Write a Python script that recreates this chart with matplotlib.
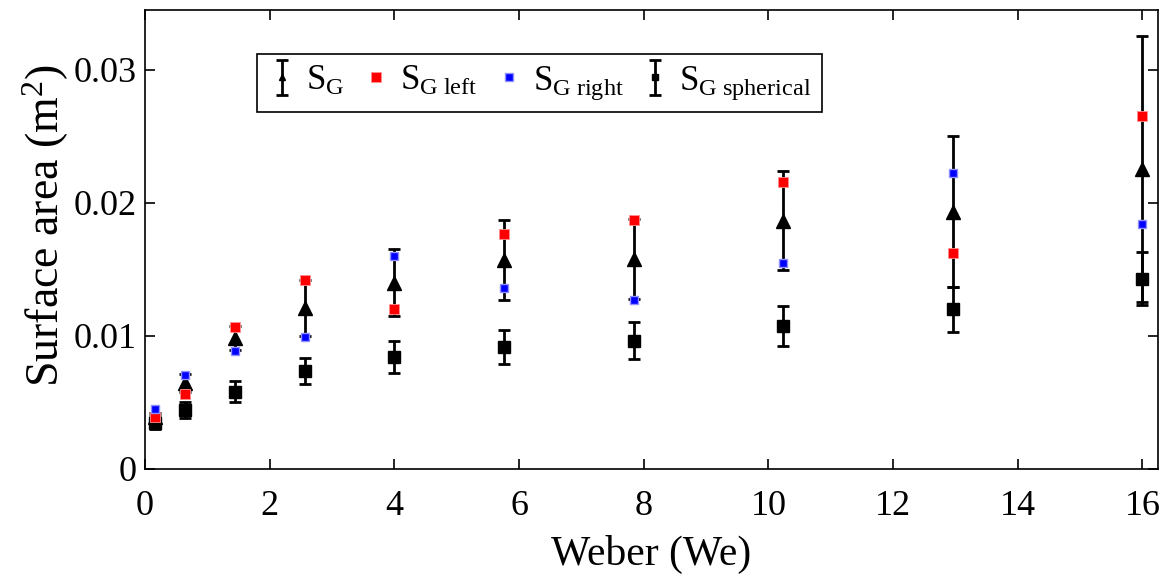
import matplotlib.pyplot as plt
import numpy as np
from matplotlib.lines import Line2D
from matplotlib.legend_handler import HandlerErrorbar

plt.rcParams['font.family'] = ['Liberation Serif', 'DejaVu Serif']
plt.rcParams['mathtext.fontset'] = 'custom'
plt.rcParams['mathtext.rm'] = 'Liberation Serif'
plt.rcParams['mathtext.it'] = 'Liberation Serif:italic'

# Weber numbers
we = [0.16, 0.64, 1.44, 2.56, 4.0, 5.76, 7.84, 10.24, 12.96, 16.0]

# total surface area S_G (mean and error)
sg = [0.0039, 0.00647, 0.00985, 0.0121, 0.0140, 0.01571, 0.01579, 0.01867, 0.01935, 0.02256]
sg_err = [0.0003, 0.0007, 0.0009, 0.0021, 0.0025, 0.0030, 0.0030, 0.0037, 0.0057, 0.0100]

# left / right halves
sg_left = [0.0039, 0.00564, 0.01068, 0.0142, 0.0120, 0.01765, 0.01872, 0.02155, 0.01622, 0.02654]
sg_right = [0.00451, 0.00707, 0.00887, 0.00995, 0.0160, 0.0136, 0.0127, 0.01551, 0.02226, 0.01842]

# spherical approximation
sg_sph = [0.00348, 0.00444, 0.00581, 0.00737, 0.00845, 0.00917, 0.00965, 0.01078, 0.0120, 0.01429]
sg_sph_err = [0.0005, 0.0006, 0.0008, 0.0010, 0.0012, 0.0013, 0.0014, 0.0015, 0.0017, 0.0020]

fig = plt.figure(figsize=(11.65, 5.78), dpi=100)
ax = fig.add_axes([0.1245, 0.1886, 0.8695, 0.7941])

h1 = ax.errorbar(we, sg, yerr=sg_err, fmt='^', color='k', ms=10, elinewidth=2,
                 capsize=4, capthick=2, label=r'S$_{\rm G}$', zorder=3)
h2, = ax.plot(we, sg_left, 's', color='red', ms=6.5, mec='#ff9090', mew=0.6,
              label=r'S$_{\rm G\ left}$', zorder=4)
h3, = ax.plot(we, sg_right, 's', color='blue', ms=6, mec='#9090ff', mew=1.0,
              label=r'S$_{\rm G\ right}$', zorder=4)
h4 = ax.errorbar(we, sg_sph, yerr=sg_sph_err, fmt='s', color='k', ms=8, elinewidth=2,
                 capsize=4, capthick=2, label=r'S$_{\rm G\ spherical}$', zorder=3)

ax.set_xlim(0, 16.25)
ax.set_ylim(0, 0.0345)
ax.set_xticks(np.arange(0, 17, 2))
ax.set_yticks([0, 0.01, 0.02, 0.03])
ax.set_yticklabels(['0', '0.01', '0.02', '0.03'])
ax.tick_params(direction='in', top=True, right=True, length=7, width=1.2, labelsize=26)
ax.tick_params(axis='x', pad=15)
ax.tick_params(axis='y', pad=6)
for s in ax.spines.values():
    s.set_linewidth(1.2)

ax.set_xlabel('Weber (We)', fontsize=30, labelpad=9)
ax.set_ylabel(r'Surface area (m$^{\rm 2}$)', fontsize=33, labelpad=2)
ax.yaxis.label.set_y(0.53)


def small_marker(art, orig):
    art.update_from(orig)
    if isinstance(orig, Line2D) and orig.get_marker() in ('^', 's'):
        art.set_markersize(5)


leg = ax.legend(handles=[h1, h2, h3, h4], loc='upper left', bbox_to_anchor=(0.111, 0.905),
                borderaxespad=0, ncol=4, fontsize=25, frameon=True, fancybox=False,
                edgecolor='k', framealpha=1, handlelength=0.8, handletextpad=0.3,
                columnspacing=0.5, borderpad=0.3,
                handler_map={type(h1): HandlerErrorbar(update_func=small_marker)})
leg.get_frame().set_linewidth(1.2)

fig.savefig('out.png', dpi=100)
